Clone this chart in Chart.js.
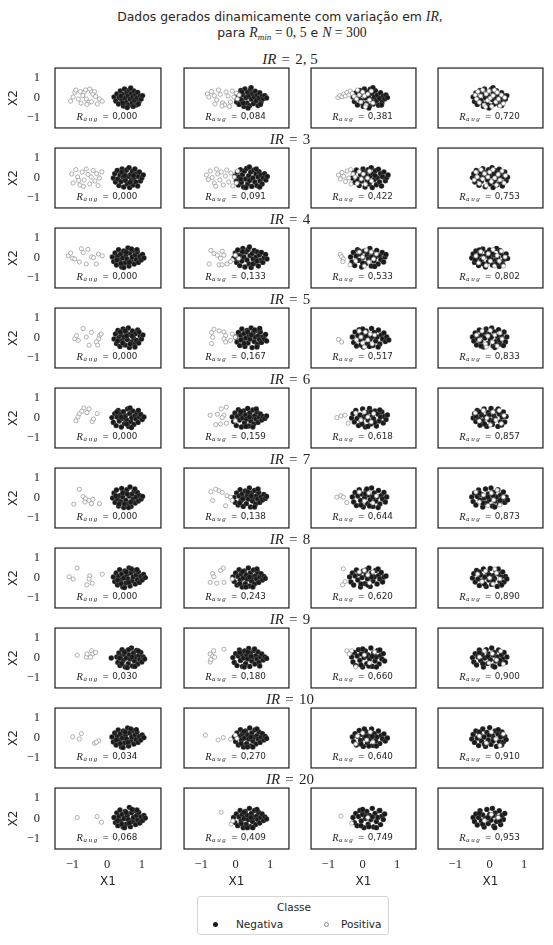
<!DOCTYPE html>
<html><head><meta charset="utf-8">
<script src="https://cdn.jsdelivr.net/npm/chart.js@4/dist/chart.umd.min.js"></script>
<style>
html,body{margin:0;padding:0}
body{width:553px;height:945px;background:#fff;position:relative;overflow:hidden;font-family:"DejaVu Sans",sans-serif;color:#262626}
canvas{position:absolute}
.t{position:absolute;white-space:nowrap;transform:translate(-50%,-50%);line-height:1}
.m{font-family:"Liberation Serif",serif;font-style:italic}
.s{font-family:"Liberation Serif",serif}
.ir{font-family:"Liberation Serif",serif;font-size:15px}
.eq{margin:0 0.35em}
#legend{position:absolute;left:197px;top:896px;width:192px;height:39px;border:1px solid #d6d6d6;border-radius:3px;box-sizing:border-box;font-size:10.5px}
#legend .lt{position:absolute;left:96px;top:10px;transform:translate(-50%,-50%);white-space:nowrap}
#legend .mk{position:absolute;border-radius:50%;box-sizing:border-box}
#legend .tx{position:absolute;top:27px;transform:translateY(-50%);white-space:nowrap}
</style></head><body>
<div class="t" style="left:280px;top:17px;font-size:12.4px">Dados gerados dinamicamente com variação em <span class="m" style="font-size:13.8px">IR</span>,</div>
<div class="t" style="left:292px;top:33px;font-size:12.4px">para <span class="m" style="font-size:13.8px">R</span><span class="m" style="font-size:9px;position:relative;top:3px">min</span><span class="s" style="font-size:13.8px"> = 0, 5</span> e <span class="m" style="font-size:13.8px">N</span><span class="s" style="font-size:13.8px"> = 300</span></div>
<div id="legend">
  <div class="lt">Classe</div>
  <div class="mk" style="left:14.5px;top:24.5px;width:5px;height:5px;background:#1a1a1a"></div>
  <div class="tx" style="left:38px">Negativa</div>
  <div class="mk" style="left:125.5px;top:24.5px;width:5px;height:5px;border:0.8px solid #8c8c8c;background:#fff"></div>
  <div class="tx" style="left:143px">Positiva</div>
</div>
<script>
// ---------------- DATA ----------------
const irLabels = ['2, 5','3','4','5','6','7','8','9','10','20'];
const raug = [
  [0.000,0.084,0.381,0.720],
  [0.000,0.091,0.422,0.753],
  [0.000,0.133,0.533,0.802],
  [0.000,0.167,0.517,0.833],
  [0.000,0.159,0.618,0.857],
  [0.000,0.138,0.644,0.873],
  [0.000,0.243,0.620,0.890],
  [0.030,0.180,0.660,0.900],
  [0.034,0.270,0.640,0.910],
  [0.068,0.409,0.749,0.953]
];
const xTicks = [-1,0,1];
const yTicks = [-1,0,1];

// flat [x,y,x,y,...] per panel (columns 1..4)
const neg_2_5 = [
 [0.20,0.05,0.25,-0.15,0.28,0.20,0.33,-0.30,0.35,0.02,0.38,0.35,0.42,-0.10,0.45,0.18,0.47,-0.40,0.50,0.45,0.52,0.00,0.55,-0.22,0.57,0.28,0.60,0.10,0.62,-0.35,0.64,0.40,0.66,-0.05,0.70,0.22,0.72,-0.25,0.74,0.05,0.77,0.35,0.79,-0.12,0.82,0.15,0.84,-0.35,0.86,0.00,0.88,0.28,0.92,-0.18,0.95,0.10,0.98,-0.05,1.02,0.12,0.68,0.50,0.58,-0.48,0.45,-0.25,0.40,0.10,0.90,-0.30,0.75,-0.42],
 [0.00,0.05,0.03,-0.20,0.06,0.22,0.10,-0.32,0.12,0.00,0.15,0.38,0.18,-0.12,0.21,0.16,0.24,-0.42,0.27,0.45,0.30,0.02,0.33,-0.25,0.35,0.28,0.38,0.08,0.41,-0.38,0.43,0.42,0.46,-0.06,0.49,0.20,0.52,-0.28,0.54,0.04,0.57,0.34,0.60,-0.14,0.63,0.14,0.65,-0.38,0.68,0.00,0.70,0.26,0.74,-0.20,0.77,0.10,0.80,-0.04,0.85,0.12,0.45,0.52,0.36,-0.50,0.22,-0.25,0.18,0.30,0.72,-0.32,0.90,0.00],
 [-0.28,0.05,-0.24,-0.18,-0.20,0.25,-0.15,-0.35,-0.12,0.02,-0.08,0.38,-0.05,-0.12,-0.02,0.18,0.02,-0.42,0.05,0.45,0.08,0.00,0.11,-0.28,0.14,0.30,0.17,0.08,0.20,-0.40,0.22,0.44,0.25,-0.08,0.28,0.22,0.31,-0.30,0.34,0.05,0.37,0.36,0.40,-0.15,0.43,0.14,0.46,-0.36,0.49,-0.02,0.52,0.26,0.56,-0.22,0.60,0.10,0.64,-0.05,0.68,0.15,0.30,0.52,0.18,-0.50,0.00,-0.28,-0.05,0.30,0.55,-0.35,0.72,0.02],
 [-0.48,0.05,-0.44,-0.18,-0.40,0.25,-0.36,-0.32,-0.32,0.02,-0.28,0.38,-0.25,-0.12,-0.22,0.18,-0.18,-0.42,-0.15,0.45,-0.12,0.00,-0.08,-0.28,-0.05,0.30,-0.02,0.08,0.02,-0.40,0.05,0.44,0.08,-0.08,0.11,0.22,0.14,-0.30,0.17,0.05,0.20,0.36,0.23,-0.15,0.26,0.14,0.29,-0.36,0.32,-0.02,0.35,0.26,0.38,-0.22,0.42,0.10,0.46,-0.05,0.50,0.12,0.10,0.52,-0.02,-0.50,-0.20,-0.28,-0.25,0.30,0.35,-0.38]
];
const pos_2_5 = [
 [-0.93,0.29,-0.90,0.40,-0.77,0.32,-0.66,0.29,-0.45,0.32,-0.36,0.32,-0.41,0.19,-1.05,-0.16,-0.83,-0.05,-0.60,-0.05,-0.52,-0.21,-0.58,-0.32,-0.45,-0.19,-0.22,-0.05,-0.14,-0.16,-0.33,0.08,-0.70,0.12,-0.98,0.05,-0.50,0.45,-0.28,-0.30,-0.75,-0.25,-0.62,0.40],
 [-0.82,0.20,-0.78,0.05,-0.70,0.32,-0.62,0.12,-0.55,-0.10,-0.50,0.40,-0.45,0.18,-0.38,-0.25,-0.32,-0.35,-0.28,0.30,-0.22,0.10,-0.15,-0.20,-0.10,0.35,-0.05,0.05,0.02,0.25,0.05,-0.05,-0.60,-0.30,-0.40,-0.40,-0.18,-0.42,0.10,0.15],
 [-0.72,0.02,-0.66,0.12,-0.60,0.06,-0.55,0.20,-0.50,0.10,-0.45,0.28,-0.40,0.15,-0.36,0.35,-0.30,0.22,-0.25,0.08,-0.18,-0.05,-0.10,0.15,-0.05,-0.20,0.00,0.30,0.05,0.10,0.10,-0.35,0.15,0.20,0.20,-0.10,0.25,0.35,-0.15,0.40,0.08,-0.45,0.30,-0.25],
 [-0.42,0.15,-0.38,-0.05,-0.34,0.32,-0.30,-0.22,-0.26,0.10,-0.20,0.40,-0.16,-0.35,-0.10,0.20,-0.06,-0.12,-0.02,0.35,0.02,0.00,0.06,-0.42,0.10,0.12,0.14,0.40,0.18,-0.20,0.22,0.28,0.26,-0.05,0.30,-0.40,0.34,0.15,0.40,-0.28,0.44,0.02,-0.12,-0.45]
];
const neg_3 = [
 [0.18,0.00,0.22,0.22,0.24,-0.20,0.29,0.38,0.31,-0.05,0.34,-0.38,0.37,0.15,0.40,-0.18,0.43,0.45,0.46,0.05,0.48,-0.45,0.51,0.25,0.53,-0.12,0.56,0.40,0.58,-0.30,0.61,0.08,0.63,0.52,0.65,-0.48,0.68,0.18,0.70,-0.10,0.73,0.35,0.75,-0.35,0.78,0.02,0.80,0.45,0.83,-0.20,0.85,0.22,0.88,-0.40,0.90,0.08,0.93,0.30,0.96,-0.15,1.00,0.00,1.04,0.15,0.66,-0.22,0.50,0.12,0.42,0.30,0.76,0.12],
 [-0.02,0.10,0.02,-0.15,0.05,0.30,0.08,-0.35,0.11,0.05,0.14,0.42,0.17,-0.22,0.20,0.18,0.23,-0.45,0.26,0.35,0.29,-0.05,0.32,0.48,0.35,-0.30,0.38,0.12,0.41,-0.12,0.44,0.30,0.47,-0.42,0.50,0.00,0.53,0.40,0.56,-0.20,0.59,0.20,0.62,-0.38,0.65,0.05,0.68,0.32,0.71,-0.15,0.74,0.15,0.77,-0.30,0.80,0.00,0.84,0.22,0.88,-0.10,0.92,0.08,0.40,0.55,0.30,-0.48,0.60,0.45,0.15,-0.05,0.70,-0.45],
 [-0.30,0.00,-0.26,0.25,-0.22,-0.22,-0.18,0.40,-0.14,-0.05,-0.10,-0.38,-0.06,0.18,-0.03,-0.15,0.01,0.45,0.04,0.05,0.07,-0.45,0.10,0.28,0.13,-0.10,0.16,0.42,0.19,-0.30,0.22,0.10,0.25,0.52,0.28,-0.48,0.31,0.20,0.34,-0.08,0.37,0.36,0.40,-0.34,0.43,0.02,0.46,0.44,0.49,-0.20,0.52,0.22,0.55,-0.40,0.58,0.06,0.62,0.30,0.66,-0.14,0.70,0.02,0.74,0.15,0.20,-0.22,0.08,0.12,0.00,0.30,0.36,0.12],
 [-0.50,0.02,-0.46,0.22,-0.43,-0.20,-0.39,0.38,-0.35,-0.02,-0.31,-0.36,-0.28,0.14,-0.24,-0.16,-0.20,0.46,-0.17,0.04,-0.13,-0.44,-0.10,0.28,-0.06,-0.10,-0.03,0.42,0.01,-0.30,0.04,0.10,0.07,0.52,0.10,-0.48,0.13,0.20,0.16,-0.08,0.19,0.36,0.22,-0.34,0.25,0.02,0.28,0.44,0.31,-0.20,0.34,0.22,0.37,-0.40,0.40,0.06,0.44,0.30,0.48,-0.14,0.52,0.04,-0.08,0.18,0.12,-0.20,-0.25,0.30,0.30,0.12]
];
const pos_3 = [
 [-1.02,0.20,-0.98,-0.25,-0.90,0.42,-0.85,0.05,-0.78,-0.35,-0.72,0.30,-0.66,-0.10,-0.60,0.45,-0.55,0.18,-0.50,-0.30,-0.46,0.05,-0.40,0.38,-0.35,-0.15,-0.30,0.22,-0.26,-0.38,-0.22,0.00,-0.68,-0.42,-0.82,-0.12,-0.15,0.30],
 [-0.85,0.15,-0.80,-0.08,-0.74,0.35,-0.68,0.02,-0.62,-0.25,-0.56,0.45,-0.52,0.20,-0.46,-0.10,-0.42,0.30,-0.36,-0.35,-0.30,0.10,-0.26,0.40,-0.20,-0.20,-0.14,0.25,-0.08,-0.40,-0.04,0.05,0.02,-0.25,0.06,0.35,-0.58,-0.42],
 [-0.70,0.15,-0.65,-0.05,-0.60,0.28,-0.55,0.08,-0.50,-0.18,-0.45,0.35,-0.40,0.00,-0.34,-0.30,-0.28,0.20,-0.22,0.05,-0.16,-0.28,-0.10,0.32,-0.04,-0.05,0.02,0.20,0.08,-0.32,0.14,0.00,0.20,0.35,0.26,-0.15,-0.35,0.42],
 [-0.45,-0.10,-0.40,0.30,-0.36,0.05,-0.30,-0.28,-0.25,0.42,-0.20,-0.05,-0.15,0.22,-0.10,-0.38,-0.05,0.05,0.00,0.30,0.05,-0.18,0.10,0.42,0.15,0.00,0.20,-0.35,0.25,0.18,0.30,-0.10,0.36,0.35,0.42,-0.25,0.46,0.12]
];
const neg_4 = [
 [0.15,0.05,0.19,-0.18,0.23,0.25,0.27,-0.35,0.30,0.08,0.33,0.42,0.36,-0.12,0.39,0.20,0.42,-0.45,0.45,0.00,0.48,0.35,0.51,-0.25,0.54,0.15,0.57,-0.05,0.60,0.50,0.63,-0.40,0.66,0.25,0.69,-0.15,0.72,0.05,0.75,0.38,0.78,-0.30,0.81,0.15,0.84,-0.08,0.87,0.30,0.90,-0.22,0.94,0.08,0.98,-0.10,1.02,0.18,1.06,0.00,0.55,0.28,0.40,-0.28,0.70,0.45,0.64,-0.22,0.28,-0.10,0.86,0.42,0.48,-0.48],
 [-0.05,0.00,-0.01,0.25,0.03,-0.22,0.06,0.40,0.09,-0.05,0.12,-0.38,0.15,0.15,0.18,-0.15,0.21,0.48,0.24,0.05,0.27,-0.45,0.30,0.30,0.33,-0.10,0.36,0.42,0.39,-0.30,0.42,0.12,0.45,-0.48,0.48,0.22,0.51,-0.05,0.54,0.38,0.57,-0.25,0.60,0.05,0.63,0.30,0.66,-0.40,0.69,0.15,0.72,-0.12,0.75,0.28,0.79,-0.22,0.83,0.02,0.87,0.18,0.91,-0.05,0.20,0.32,0.50,-0.30,0.40,0.55,0.10,0.10,0.62,-0.15],
 [-0.35,0.05,-0.31,-0.20,-0.27,0.28,-0.23,-0.38,-0.19,0.10,-0.15,0.42,-0.11,-0.12,-0.07,0.20,-0.03,-0.45,0.01,0.02,0.05,0.35,0.09,-0.28,0.13,0.15,0.17,-0.05,0.21,0.48,0.25,-0.40,0.29,0.25,0.33,-0.15,0.37,0.05,0.41,0.38,0.45,-0.30,0.49,0.12,0.53,-0.08,0.57,0.28,0.61,-0.20,0.65,0.05,0.68,0.18,0.15,0.30,0.00,-0.25,0.35,-0.42,0.26,0.05,-0.10,0.35],
 [-0.52,0.00,-0.48,0.20,-0.44,-0.22,-0.40,0.35,-0.36,0.02,-0.32,-0.38,-0.28,0.18,-0.24,-0.10,-0.20,0.45,-0.16,0.08,-0.12,-0.45,-0.08,0.28,-0.04,-0.18,0.00,0.40,0.04,-0.05,0.08,-0.35,0.12,0.15,0.16,-0.12,0.20,0.48,0.24,0.02,0.28,-0.42,0.32,0.25,0.36,-0.20,0.40,0.10,0.44,-0.05,0.48,0.20,-0.30,0.40,-0.18,-0.30,0.06,0.22,0.20,-0.28,0.30,0.38,-0.02,0.05,0.38,-0.32,-0.42,-0.10,0.52,-0.02]
];
const pos_4 = [
 [-1.12,0.11,-0.99,-0.02,-0.93,-0.05,-0.74,0.46,-0.69,0.27,-0.55,0.43,-0.60,-0.30,-0.45,0.06,-0.39,0.02,-0.31,-0.30,-0.14,0.11,-0.80,-0.20,-1.05,0.25,-0.25,0.20],
 [-0.72,0.38,-0.63,0.22,-0.53,0.14,-0.39,0.34,-0.34,0.14,-0.44,-0.02,-0.77,-0.30,-0.48,-0.34,-0.39,-0.34,-0.25,-0.30,-0.10,-0.10,-0.01,0.14,-0.15,-0.18,0.09,-0.02],
 [-0.65,0.18,-0.61,0.06,-0.56,-0.05,-0.58,-0.18,-0.37,-0.34,-0.10,0.30,0.00,0.05,0.10,0.40,0.18,-0.20,0.25,0.30,0.32,-0.05,-0.20,-0.15,0.40,0.20,0.05,-0.40],
 [-0.40,0.10,-0.32,-0.25,-0.26,0.32,-0.18,0.00,-0.10,-0.38,-0.04,0.22,0.02,-0.15,0.10,0.42,0.14,-0.40,0.22,0.12,0.28,-0.15,0.34,0.35,0.40,-0.40,0.45,0.05]
];
const neg_5 = [
 [0.20,-0.05,0.24,0.20,0.27,-0.28,0.31,0.38,0.34,0.02,0.37,-0.42,0.40,0.15,0.43,-0.15,0.46,0.45,0.49,0.05,0.52,-0.35,0.55,0.28,0.58,-0.08,0.61,0.50,0.64,-0.48,0.67,0.18,0.70,-0.20,0.73,0.35,0.76,0.00,0.79,-0.32,0.82,0.22,0.85,-0.12,0.88,0.40,0.91,-0.25,0.95,0.10,0.99,-0.05,1.03,0.15,0.56,0.10,0.45,-0.25,0.72,0.10,0.80,-0.45,0.38,0.30,0.66,-0.30,0.30,-0.15,0.92,0.30,0.52,0.35],
 [0.00,0.05,0.04,-0.20,0.08,0.28,0.12,-0.38,0.15,0.12,0.18,0.45,0.21,-0.08,0.24,0.22,0.27,-0.42,0.30,0.00,0.33,0.38,0.36,-0.25,0.39,0.15,0.42,-0.05,0.45,0.50,0.48,-0.48,0.51,0.25,0.54,-0.18,0.57,0.05,0.60,0.38,0.63,-0.32,0.66,0.12,0.69,-0.08,0.72,0.30,0.75,-0.22,0.79,0.05,0.83,-0.05,0.87,0.18,0.90,-0.15,0.35,0.30,0.25,-0.28,0.55,0.40,0.62,-0.45,0.45,0.15,0.70,0.48,0.15,-0.10],
 [-0.30,0.05,-0.26,-0.22,-0.22,0.30,-0.18,-0.40,-0.14,0.12,-0.10,0.42,-0.06,-0.10,-0.02,0.22,0.02,-0.45,0.06,0.00,0.10,0.35,0.14,-0.28,0.18,0.18,0.22,-0.05,0.26,0.48,0.30,-0.38,0.34,0.28,0.38,-0.15,0.42,0.05,0.46,0.40,0.50,-0.30,0.54,0.15,0.58,-0.05,0.62,0.25,0.66,-0.18,0.70,0.05,0.76,-0.10,0.10,0.10,-0.05,-0.35,0.30,0.08,0.20,-0.42,0.45,-0.45,0.00,0.45],
 [-0.50,0.05,-0.46,-0.15,-0.42,0.25,-0.38,-0.35,-0.34,0.08,-0.30,0.40,-0.26,-0.18,-0.22,0.15,-0.18,-0.45,-0.14,0.00,-0.10,0.45,-0.06,-0.28,-0.02,0.20,0.02,-0.10,0.06,0.50,0.10,-0.40,0.14,0.30,0.18,-0.18,0.22,0.08,0.26,0.42,0.30,-0.30,0.34,0.15,0.38,-0.05,0.42,0.30,0.46,-0.20,0.50,0.05,-0.35,-0.05,-0.15,0.30,0.05,0.05,0.15,-0.48,0.28,-0.10,-0.25,-0.40,0.40,-0.38]
];
const pos_5 = [
 [-0.69,0.47,-0.93,-0.04,-0.83,-0.12,-0.88,0.12,-0.45,0.28,-0.22,0.12,-0.24,-0.04,-0.31,-0.20,-0.52,-0.36,-0.27,-0.36,-0.17,0.20,-0.60,0.05],
 [-0.70,0.28,-0.63,0.44,-0.48,0.36,-0.34,0.31,-0.29,0.12,-0.67,0.04,-0.70,-0.28,-0.34,-0.04,-0.29,-0.20,-0.15,-0.12,-0.01,0.04,-0.10,0.20],
 [-0.70,-0.07,-0.61,-0.20,-0.10,0.35,-0.05,0.05,0.00,-0.25,0.08,0.30,0.15,-0.10,0.22,0.20,0.28,-0.30,0.35,0.15,-0.18,-0.10,0.05,-0.45],
 [-0.38,0.15,-0.30,-0.10,-0.22,0.35,-0.12,-0.30,-0.05,0.10,0.02,0.38,0.08,-0.20,0.15,0.15,0.22,-0.40,0.30,0.25,0.36,-0.05,-0.10,-0.45]
];
const neg_6 = [
 [0.14,0.02,0.18,-0.22,0.22,0.22,0.26,-0.38,0.29,0.05,0.32,0.38,0.35,-0.15,0.38,0.18,0.41,-0.45,0.44,-0.02,0.47,0.32,0.50,-0.28,0.53,0.12,0.56,-0.08,0.59,0.45,0.62,-0.42,0.65,0.22,0.68,-0.18,0.71,0.02,0.74,0.35,0.77,-0.32,0.80,0.12,0.83,-0.05,0.86,0.28,0.89,-0.22,0.93,0.05,0.97,0.18,1.01,-0.08,1.06,0.05,0.50,0.05,0.40,0.05,0.66,0.50,0.70,-0.48,0.28,0.30,0.90,0.38,0.56,-0.30],
 [-0.10,0.05,-0.06,-0.18,-0.02,0.25,0.02,-0.38,0.05,0.08,0.08,0.42,0.11,-0.10,0.14,0.20,0.17,-0.45,0.20,0.00,0.23,0.35,0.26,-0.25,0.29,0.15,0.32,-0.05,0.35,0.48,0.38,-0.40,0.41,0.25,0.44,-0.15,0.47,0.05,0.50,0.40,0.53,-0.30,0.56,0.12,0.59,-0.05,0.62,0.30,0.65,-0.22,0.68,0.05,0.72,0.20,0.76,-0.10,0.80,0.08,0.85,-0.02,0.90,0.10,0.30,-0.42,0.50,-0.45,0.15,0.32,0.60,0.45,0.40,0.05],
 [-0.32,0.00,-0.28,0.22,-0.24,-0.20,-0.20,0.38,-0.16,-0.02,-0.12,-0.38,-0.08,0.15,-0.04,-0.15,0.00,0.45,0.04,0.05,0.08,-0.45,0.12,0.28,0.16,-0.10,0.20,0.48,0.24,-0.30,0.28,0.12,0.32,-0.05,0.36,0.35,0.40,-0.40,0.44,0.20,0.48,-0.15,0.52,0.05,0.56,0.30,0.60,-0.25,0.64,0.08,0.68,-0.08,0.72,0.15,0.10,0.10,-0.02,-0.30,0.25,0.30,0.35,-0.22,0.15,-0.42,0.50,0.40],
 [-0.48,0.00,-0.44,0.22,-0.40,-0.18,-0.36,0.38,-0.32,-0.05,-0.28,-0.36,-0.24,0.15,-0.20,-0.15,-0.16,0.45,-0.12,0.05,-0.08,-0.42,-0.04,0.28,0.00,-0.10,0.04,0.48,0.08,-0.32,0.12,0.12,0.16,-0.02,0.20,0.35,0.24,-0.42,0.28,0.20,0.32,-0.18,0.36,0.05,0.40,0.30,0.44,-0.20,0.48,0.08,-0.30,0.30,-0.15,-0.30,0.10,-0.15,0.25,0.45,-0.02,0.15,0.35,-0.35,-0.40,0.10]
];
const pos_6 = [
 [-0.67,0.50,-0.73,0.34,-0.80,0.21,-0.58,0.27,-0.90,-0.14,-0.43,-0.18,-0.39,-0.05,-0.29,0.22,-0.52,0.46,-0.84,0.05],
 [-0.74,0.14,-0.53,0.19,-0.42,0.46,-0.27,0.54,-0.34,0.14,-0.39,0.02,-0.58,-0.34,-0.44,-0.30,-0.27,-0.26,-0.01,-0.14],
 [-0.75,0.02,-0.63,0.10,-0.51,0.14,-0.42,-0.26,-0.20,0.25,-0.05,-0.10,0.05,0.30,0.15,0.05,0.25,-0.20,0.32,0.22],
 [-0.42,0.25,-0.30,-0.15,-0.18,0.38,-0.08,0.00,0.02,-0.35,0.10,0.30,0.18,-0.10,0.28,0.38,0.34,-0.28,0.42,0.12]
];
const neg_7 = [
 [0.16,0.00,0.20,0.25,0.23,-0.22,0.27,0.40,0.30,-0.05,0.33,-0.40,0.36,0.12,0.39,-0.18,0.42,0.48,0.45,0.05,0.48,-0.48,0.51,0.28,0.54,-0.12,0.57,0.42,0.60,-0.30,0.63,0.10,0.66,0.55,0.69,-0.42,0.72,0.20,0.75,-0.05,0.78,0.35,0.81,-0.25,0.84,0.05,0.87,0.28,0.90,-0.15,0.94,0.12,0.98,-0.05,1.02,0.08,0.45,0.25,0.58,0.20,0.35,-0.30,0.68,-0.20,0.80,0.45,0.50,-0.30,0.25,0.10,0.62,-0.48],
 [-0.05,0.02,-0.01,-0.22,0.03,0.25,0.07,-0.35,0.10,0.10,0.13,0.42,0.16,-0.12,0.19,0.20,0.22,-0.42,0.25,0.00,0.28,0.35,0.31,-0.28,0.34,0.15,0.37,-0.05,0.40,0.50,0.43,-0.45,0.46,0.25,0.49,-0.15,0.52,0.05,0.55,0.38,0.58,-0.30,0.61,0.12,0.64,-0.05,0.67,0.28,0.70,-0.22,0.74,0.05,0.78,-0.10,0.82,0.18,0.86,-0.02,0.90,0.08,0.20,-0.05,0.35,0.30,0.55,-0.45,0.45,0.10,0.12,-0.25,0.65,0.45],
 [-0.30,0.05,-0.26,-0.20,-0.22,0.28,-0.18,-0.38,-0.14,0.10,-0.10,0.42,-0.06,-0.12,-0.02,0.20,0.02,-0.45,0.06,0.02,0.10,0.35,0.14,-0.28,0.18,0.15,0.22,-0.08,0.26,0.50,0.30,-0.42,0.34,0.25,0.38,-0.15,0.42,0.05,0.46,0.38,0.50,-0.30,0.54,0.12,0.58,-0.05,0.62,0.28,0.66,-0.20,0.70,0.05,0.08,0.20,-0.05,-0.35,0.30,0.05,0.20,-0.40,0.45,-0.48,0.12,0.45],
 [-0.52,0.05,-0.48,-0.18,-0.44,0.25,-0.40,-0.35,-0.36,0.08,-0.32,0.40,-0.28,-0.10,-0.24,0.18,-0.20,-0.45,-0.16,0.00,-0.12,0.45,-0.08,-0.25,-0.04,0.20,0.00,-0.08,0.04,0.50,0.08,-0.40,0.12,0.28,0.16,-0.15,0.20,0.05,0.24,0.42,0.28,-0.30,0.32,0.15,0.36,-0.05,0.40,0.30,0.44,-0.22,0.48,0.05,0.52,-0.10,-0.30,0.25,-0.05,0.05,0.15,-0.45,0.30,-0.12,-0.20,-0.25,0.10,0.12]
];
const pos_7 = [
 [-0.80,0.44,-0.69,0.07,-0.62,-0.04,-0.52,-0.12,-0.41,-0.07,-0.45,-0.28,-0.22,-0.28,-0.96,-0.31,-0.64,-0.20],
 [-0.72,0.31,-0.58,0.44,-0.48,0.36,-0.67,-0.12,-0.25,0.12,-0.15,0.04,-0.10,-0.12,-0.29,-0.39,-0.39,0.28],
 [-0.75,0.04,-0.63,0.12,-0.56,0.04,-0.46,-0.23,-0.10,0.30,0.05,-0.15,0.18,0.25,0.30,-0.25,0.40,0.10],
 [-0.40,0.30,-0.30,-0.20,-0.18,0.15,-0.05,-0.38,0.05,0.25,0.12,-0.10,0.22,0.40,0.30,-0.35,0.40,0.05]
];
const neg_8 = [
 [0.18,0.05,0.22,-0.18,0.26,0.25,0.30,-0.35,0.33,0.08,0.36,0.42,0.39,-0.12,0.42,0.20,0.45,-0.45,0.48,0.00,0.51,0.35,0.54,-0.25,0.57,0.15,0.60,-0.05,0.63,0.50,0.66,-0.40,0.69,0.25,0.72,-0.15,0.75,0.05,0.78,0.38,0.81,-0.30,0.84,0.15,0.87,-0.08,0.90,0.30,0.93,-0.22,0.97,0.08,1.01,-0.10,1.05,0.18,1.10,0.02,0.55,0.30,0.40,-0.28,0.70,0.45,0.62,-0.22,0.30,-0.10,0.86,0.42,0.50,-0.48],
 [-0.08,0.05,-0.04,-0.18,0.00,0.25,0.04,-0.35,0.07,0.08,0.10,0.42,0.13,-0.10,0.16,0.20,0.19,-0.45,0.22,0.00,0.25,0.35,0.28,-0.28,0.31,0.15,0.34,-0.05,0.37,0.50,0.40,-0.40,0.43,0.25,0.46,-0.15,0.49,0.05,0.52,0.40,0.55,-0.30,0.58,0.12,0.61,-0.05,0.64,0.30,0.67,-0.22,0.70,0.05,0.74,0.22,0.78,-0.10,0.82,0.08,0.86,-0.02,0.20,0.32,0.50,-0.45,0.40,0.05,0.62,0.45,0.12,-0.28,0.30,-0.45],
 [-0.38,0.05,-0.34,-0.20,-0.30,0.25,-0.26,-0.35,-0.22,0.10,-0.18,0.40,-0.14,-0.10,-0.10,0.22,-0.06,-0.45,-0.02,0.02,0.02,0.35,0.06,-0.28,0.10,0.15,0.14,-0.05,0.18,0.50,0.22,-0.42,0.26,0.25,0.30,-0.15,0.34,0.05,0.38,0.38,0.42,-0.30,0.46,0.12,0.50,-0.05,0.54,0.28,0.58,-0.20,0.62,0.05,0.68,0.10,0.10,0.40,-0.05,-0.30,0.25,0.05,0.15,-0.35,0.45,0.45],
 [-0.50,0.00,-0.46,0.22,-0.42,-0.20,-0.38,0.38,-0.34,-0.05,-0.30,-0.38,-0.26,0.15,-0.22,-0.15,-0.18,0.45,-0.14,0.05,-0.10,-0.42,-0.06,0.28,-0.02,-0.10,0.02,0.48,0.06,-0.32,0.10,0.12,0.14,-0.02,0.18,0.35,0.22,-0.42,0.26,0.20,0.30,-0.18,0.34,0.05,0.38,0.30,0.42,-0.20,0.46,0.08,0.50,-0.05,-0.30,0.30,-0.15,-0.30,0.10,-0.15,0.25,0.45,-0.02,0.15,0.35,-0.35]
];
const pos_8 = [
 [-1.09,0.06,-0.98,-0.05,-0.86,0.50,-0.50,0.11,-0.58,-0.34,-0.43,-0.26,-0.14,0.19,-0.52,-0.05],
 [-0.67,0.22,-0.63,0.06,-0.44,0.38,-0.36,0.50,-0.74,-0.22,-0.55,-0.26,-0.34,-0.22,-0.10,-0.05],
 [-0.56,0.46,-0.51,-0.18,-0.58,-0.34,-0.10,0.30,0.05,0.38,0.15,0.15,0.20,-0.25,0.30,0.30],
 [-0.35,0.20,-0.22,-0.18,-0.12,0.35,0.00,0.00,0.10,-0.30,0.20,0.25,0.30,-0.05,0.15,0.45]
];
const neg_9 = [
 [0.12,0.00,0.28,0.05,0.31,-0.22,0.34,0.25,0.37,-0.38,0.40,0.10,0.43,0.42,0.46,-0.12,0.49,0.20,0.52,-0.45,0.55,0.00,0.58,0.35,0.61,-0.28,0.64,0.15,0.67,-0.05,0.70,0.50,0.73,-0.40,0.76,0.25,0.79,-0.15,0.82,0.05,0.85,0.38,0.88,-0.30,0.91,0.12,0.94,-0.08,0.97,0.28,1.00,-0.20,1.04,0.05,1.08,-0.05,0.50,0.30,0.42,-0.28,0.62,0.42,0.58,-0.48,0.72,0.05,0.36,0.00,0.80,-0.42,0.90,0.35],
 [-0.08,0.02,-0.04,-0.22,0.00,0.22,0.04,-0.38,0.08,0.10,0.11,0.40,0.14,-0.12,0.17,0.20,0.20,-0.42,0.23,0.00,0.26,0.35,0.29,-0.28,0.32,0.15,0.35,-0.05,0.38,0.48,0.41,-0.42,0.44,0.25,0.47,-0.15,0.50,0.05,0.53,0.38,0.56,-0.30,0.59,0.12,0.62,-0.05,0.65,0.30,0.68,-0.22,0.72,0.05,0.76,0.20,0.80,-0.10,0.85,0.05,0.90,-0.02,0.25,-0.45,0.45,0.08,0.55,0.45,0.12,0.28,0.35,0.30,0.70,-0.40],
 [-0.32,0.05,-0.28,-0.20,-0.24,0.28,-0.20,-0.38,-0.16,0.10,-0.12,0.42,-0.08,-0.12,-0.04,0.20,0.00,-0.45,0.04,0.02,0.08,0.35,0.12,-0.28,0.16,0.15,0.20,-0.05,0.24,0.50,0.28,-0.42,0.32,0.25,0.36,-0.15,0.40,0.05,0.44,0.38,0.48,-0.30,0.52,0.12,0.56,-0.05,0.60,0.22,0.64,-0.15,0.10,0.10,-0.05,-0.35,0.28,0.08,0.18,-0.40,0.40,-0.45,0.00,0.45,0.50,0.40],
 [-0.50,0.02,-0.46,-0.20,-0.42,0.22,-0.38,-0.35,-0.34,0.05,-0.30,0.40,-0.26,-0.12,-0.22,0.18,-0.18,-0.45,-0.14,0.00,-0.10,0.42,-0.06,-0.28,-0.02,0.20,0.02,-0.08,0.06,0.50,0.10,-0.40,0.14,0.28,0.18,-0.15,0.22,0.05,0.26,0.40,0.30,-0.30,0.34,0.15,0.38,-0.05,0.42,0.28,0.46,-0.22,0.50,0.05,-0.30,0.25,-0.05,0.08,0.15,-0.45,0.30,-0.12,-0.20,-0.28,0.10,0.15]
];
const pos_9 = [
 [-0.86,0.14,-0.60,0.04,-0.58,0.20,-0.45,0.36,-0.41,0.20,-0.33,0.28,-0.48,0.04],
 [-0.74,0.20,-0.64,0.36,-0.67,0.09,-0.74,-0.20,-0.34,0.44,-0.61,0.04,-0.72,-0.07],
 [-0.46,0.36,-0.32,0.36,-0.39,0.20,-0.20,-0.44,0.05,0.15,0.20,-0.25,0.35,0.30],
 [-0.30,0.05,-0.15,0.35,-0.02,-0.25,0.08,0.22,0.20,-0.10,0.32,0.35,0.40,-0.30]
];
const neg_10 = [
 [0.14,0.05,0.18,-0.20,0.22,0.25,0.26,-0.35,0.29,0.08,0.32,0.40,0.35,-0.12,0.38,0.20,0.41,-0.45,0.44,0.00,0.47,0.35,0.50,-0.25,0.53,0.15,0.56,-0.05,0.59,0.50,0.62,-0.40,0.65,0.25,0.68,-0.15,0.71,0.05,0.74,0.38,0.77,-0.30,0.80,0.15,0.83,-0.08,0.86,0.30,0.89,-0.22,0.93,0.08,0.97,-0.10,1.01,0.15,1.06,0.02,0.52,0.30,0.38,-0.28,0.68,0.45,0.60,-0.22,0.26,-0.10,0.84,0.42,0.46,-0.48],
 [-0.04,0.05,0.00,-0.18,0.04,0.25,0.08,-0.35,0.11,0.08,0.14,0.42,0.17,-0.10,0.20,0.20,0.23,-0.45,0.26,0.00,0.29,0.35,0.32,-0.28,0.35,0.15,0.38,-0.05,0.41,0.50,0.44,-0.40,0.47,0.25,0.50,-0.15,0.53,0.05,0.56,0.40,0.59,-0.30,0.62,0.12,0.65,-0.05,0.68,0.30,0.71,-0.22,0.74,0.05,0.78,0.22,0.82,-0.10,0.86,0.08,0.90,-0.02,0.24,0.32,0.50,-0.45,0.44,0.05,0.62,0.45,0.16,-0.28,0.34,-0.45],
 [-0.30,0.05,-0.26,-0.18,-0.22,0.22,-0.18,-0.35,-0.14,0.08,-0.10,0.38,-0.06,-0.12,-0.02,0.18,0.02,-0.42,0.06,0.00,0.10,0.32,0.14,-0.25,0.18,0.12,0.22,-0.05,0.26,0.45,0.30,-0.38,0.34,0.22,0.38,-0.15,0.42,0.05,0.46,0.35,0.50,-0.28,0.54,0.12,0.58,-0.05,0.62,0.20,0.66,-0.15,0.72,0.00,0.10,0.08,-0.05,-0.30,0.28,0.08,0.18,-0.40,0.40,-0.40,0.05,0.45],
 [-0.52,-0.05,-0.48,0.18,-0.44,-0.22,-0.40,0.35,-0.36,0.00,-0.32,-0.38,-0.28,0.15,-0.24,-0.15,-0.20,0.45,-0.16,0.05,-0.12,-0.42,-0.08,0.28,-0.04,-0.10,0.00,0.52,0.04,-0.32,0.08,0.12,0.12,-0.02,0.16,0.35,0.20,-0.42,0.24,0.20,0.28,-0.18,0.32,0.05,0.36,0.30,0.40,-0.20,0.44,0.08,0.48,-0.08,-0.30,0.30,-0.15,-0.30,0.10,-0.15,0.25,0.42,-0.02,0.15,0.35,-0.35]
];
const pos_10 = [
 [-0.99,0.06,-0.80,-0.05,-0.74,0.22,-0.36,-0.26,-0.24,-0.14,-0.31,-0.21],
 [-0.88,0.14,-0.51,-0.10,-0.36,0.02,-0.15,-0.06,-0.01,0.14,0.04,-0.02],
 [-0.20,-0.30,-0.15,0.10,0.00,0.25,0.12,-0.10,0.22,0.30,0.30,-0.20],
 [-0.30,0.10,-0.10,-0.25,0.05,0.30,0.18,-0.05,0.30,-0.38,0.40,0.20]
];
const neg_20 = [
 [0.20,0.05,0.24,-0.20,0.28,0.28,0.31,-0.35,0.34,0.10,0.37,0.42,0.40,-0.12,0.43,0.20,0.46,-0.42,0.49,0.00,0.52,0.35,0.55,-0.28,0.58,0.15,0.61,-0.05,0.64,0.55,0.67,-0.40,0.70,0.28,0.73,-0.15,0.76,0.05,0.79,0.40,0.82,-0.30,0.85,0.15,0.88,-0.08,0.91,0.30,0.94,-0.22,0.98,0.08,1.02,-0.10,1.06,0.15,1.10,0.02,0.55,0.30,0.42,-0.28,0.72,0.45,0.64,-0.22,0.30,-0.10,0.86,0.42,0.50,-0.45],
 [-0.06,0.05,-0.02,-0.20,0.02,0.22,0.06,-0.35,0.10,0.08,0.13,0.40,0.16,-0.12,0.19,0.20,0.22,-0.45,0.25,0.00,0.28,0.35,0.31,-0.28,0.34,0.15,0.37,-0.05,0.40,0.50,0.43,-0.40,0.46,0.25,0.49,-0.15,0.52,0.05,0.55,0.40,0.58,-0.30,0.61,0.12,0.64,-0.05,0.67,0.30,0.70,-0.22,0.73,0.05,0.77,0.22,0.81,-0.10,0.85,0.08,0.90,-0.02,0.24,0.30,0.50,-0.45,0.44,0.05,0.62,0.45,0.16,-0.25,0.34,-0.45],
 [-0.28,0.05,-0.24,-0.20,-0.20,0.25,-0.16,-0.35,-0.12,0.10,-0.08,0.40,-0.04,-0.12,0.00,0.20,0.04,-0.45,0.08,0.00,0.12,0.35,0.16,-0.28,0.20,0.15,0.24,-0.05,0.28,0.50,0.32,-0.42,0.36,0.25,0.40,-0.15,0.44,0.05,0.48,0.38,0.52,-0.30,0.56,0.12,0.60,-0.05,0.64,0.22,0.10,0.10,-0.05,-0.35,0.28,0.08,0.18,-0.40,0.40,-0.45,0.00,0.45,0.50,0.40],
 [-0.48,0.05,-0.44,-0.15,-0.40,0.22,-0.36,-0.32,-0.32,0.05,-0.28,0.38,-0.24,-0.12,-0.20,0.18,-0.16,-0.42,-0.12,0.00,-0.08,0.45,-0.04,-0.25,0.00,0.20,0.04,-0.08,0.08,0.50,0.12,-0.38,0.16,0.28,0.20,-0.15,0.24,0.05,0.28,0.38,0.32,-0.30,0.36,0.15,0.40,-0.05,0.44,0.25,-0.30,0.25,-0.05,0.05,0.15,-0.45,0.30,-0.12,-0.20,-0.28,0.10,0.15]
];
const pos_20 = [
 [-0.86,0.05,-0.29,0.10,-0.16,-0.18],
 [-0.42,0.31,-0.13,-0.28,-0.08,-0.12],
 [-0.63,0.12,-0.32,-0.23,0.15,0.05],
 [0.05,0.20,0.25,0.05,-0.15,-0.10]
];

const negRows = [neg_2_5,neg_3,neg_4,neg_5,neg_6,neg_7,neg_8,neg_9,neg_10,neg_20];
const posRows = [pos_2_5,pos_3,pos_4,pos_5,pos_6,pos_7,pos_8,pos_9,pos_10,pos_20];

// ---------------- LAYOUT ----------------
const pad = 2, yAxisW = 55, xAxisH = 45;
const colLeft = [55, 183, 310, 437];
const boxW = 107, boxH = 62, top0 = 67, rowStep = 80;
const xMin = -1.5, xMax = 1.55, yMin = -1.5, yMax = 1.5;
const ink = '#262626';

function pts(a){ const o=[]; for(let i=0;i<a.length;i+=2) o.push({x:a[i], y:a[i+1]}); return o; }
function fmtTick(v){ return v < 0 ? '\u2212' + Math.abs(v) : String(v); }

const framePlugin = {
  id: 'frame',
  afterDraw(chart){
    const {ctx, chartArea:a} = chart;
    ctx.save(); ctx.strokeStyle = ink; ctx.lineWidth = 1.25;
    ctx.strokeRect(a.left, a.top, a.right - a.left, a.bottom - a.top);
    ctx.restore();
  }
};
const raugPlugin = {
  id: 'raug',
  afterDatasetsDraw(chart, args, opts){
    const {ctx, chartArea:a} = chart;
    const cy = a.bottom - 11;
    const fR = 'italic 10.5px "Liberation Serif"', fS = 'italic 7px "Liberation Serif"',
          fE = '10.5px "Liberation Serif"', fV = '8.8px "DejaVu Sans"';
    ctx.save(); ctx.fillStyle = ink; ctx.textBaseline = 'middle'; ctx.textAlign = 'left';
    const segs = [['R', fR, 0, 0.5], ['a', fS, 2.5, 1.6], ['u', fS, 2.5, 1.6], ['g', fS, 2.5, 5.5], ['=', fE, 0, 3.5], [opts.text, fV, 0, 0]];
    let total = 0;
    segs.forEach(s => { ctx.font = s[1]; s.push(ctx.measureText(s[0]).width); total += s[4] + s[3]; });
    let x = (a.left + a.right) / 2 - total / 2 - 1;
    segs.forEach(s => { ctx.font = s[1]; ctx.fillText(s[0], x, cy + s[2]); x += s[4] + s[3]; });
    ctx.restore();
  }
};

const body = document.body;
for (let r = 0; r < 10; r++) {
  const lab = document.createElement('div');
  lab.className = 't ir';
  lab.style.left = '290px';
  lab.style.top = (top0 + r * rowStep - 8) + 'px';
  lab.innerHTML = '<span class="m">IR</span><span class="eq">=</span><span>' + irLabels[r] + '</span>';
  body.appendChild(lab);
  for (let c = 0; c < 4; c++) {
    const left = c === 0, bottom = r === 9;
    const w = boxW + 2 * pad + (left ? yAxisW : 0), h = boxH + 2 * pad + (bottom ? xAxisH : 0);
    const cv = document.createElement('canvas');
    cv.width = w; cv.height = h; cv.style.width = w + 'px'; cv.style.height = h + 'px';
    cv.style.left = (colLeft[c] - pad - (left ? yAxisW : 0)) + 'px';
    cv.style.top = (top0 + r * rowStep - pad) + 'px';
    body.appendChild(cv);
    new Chart(cv, {
      type: 'scatter',
      data: { datasets: [
        { label: 'Positiva', data: pts(posRows[r][c]), backgroundColor: '#ffffff', borderColor: '#8f8f8f', borderWidth: 0.7, pointRadius: 2.1, pointHoverRadius: 2.1 },
        { label: 'Negativa', data: pts(negRows[r][c]), backgroundColor: '#1a1a1a', borderColor: 'rgba(255,255,255,0.45)', borderWidth: 0.35, pointRadius: 2.7, pointHoverRadius: 2.7 }
      ]},
      options: {
        responsive: false, animation: false, devicePixelRatio: 1, events: [],
        layout: { padding: pad },
        plugins: { legend: { display: false }, tooltip: { enabled: false },
                   raug: { text: raug[r][c].toFixed(3).replace('.', ',') } },
        scales: {
          x: { type: 'linear', min: xMin, max: xMax, display: bottom,
               afterFit: s => { if (bottom) s.height = xAxisH; s.paddingLeft = 0; s.paddingRight = 0; },
               afterBuildTicks: s => { s.ticks = xTicks.map(v => ({ value: v })); },
               grid: { display: false }, border: { display: false },
               ticks: { padding: 0, color: ink, font: { family: 'Liberation Serif', size: 12.5 }, callback: fmtTick, maxRotation: 0 },
               title: { display: true, text: 'X1', color: ink, font: { family: 'DejaVu Sans', size: 12 }, padding: { top: 0, bottom: 5 } } },
          y: { type: 'linear', min: yMin, max: yMax, display: left,
               afterFit: s => { if (left) s.width = yAxisW; s.paddingTop = 0; s.paddingBottom = 0; },
               afterBuildTicks: s => { s.ticks = yTicks.map(v => ({ value: v })); },
               grid: { display: false }, border: { display: false },
               ticks: { padding: 7, color: ink, font: { family: 'Liberation Serif', size: 12.5 }, callback: fmtTick },
               title: { display: true, text: 'X2', color: ink, font: { family: 'DejaVu Sans', size: 12 }, padding: { top: 7, bottom: 0 } } }
        }
      },
      plugins: [framePlugin, raugPlugin]
    });
  }
}
</script>
</body></html>
